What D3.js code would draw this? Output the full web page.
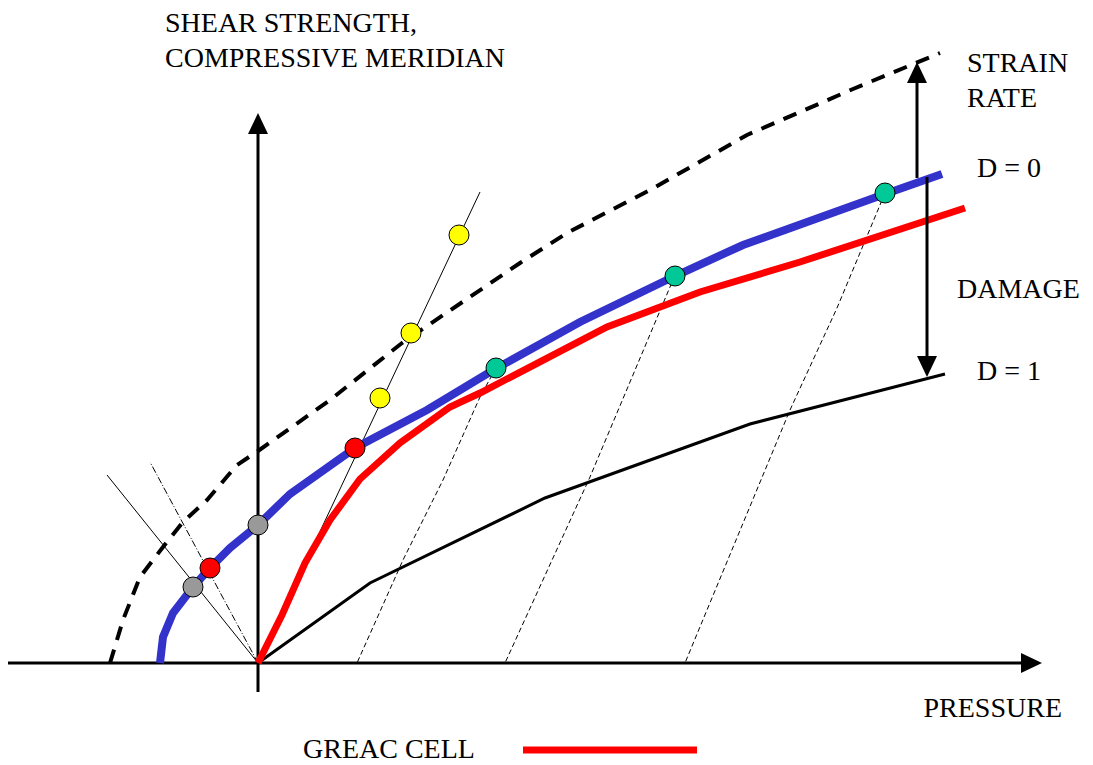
<!DOCTYPE html>
<html>
<head>
<meta charset="utf-8">
<style>
  body { margin: 0; background: #fff; }
  text { font-family: "Liberation Serif", "Times New Roman", serif; font-size: 28px; fill: #000; }
</style>
</head>
<body>
<svg id="chart"></svg>
<script src="https://d3js.org/d3.v7.min.js"></script>
<script>
// data: pressure p, shear q (schematic units)
var d0Curve = [[-9.8,0],[-9.5,2.6],[-8.5,5.0],[-6.5,7.6],[-4.8,9.5],[-2.8,11.5],[0,13.8],[3.2,16.9],[9.7,21.5],[16.9,25.3],[23.7,29.4],[32.2,34.1],[41.7,38.7],[48.5,41.8],[62.7,46.9],[68.4,48.9]]
var greacCurve = [[0,0],[2.4,4.8],[4.7,10.0],[7.2,14.3],[10.2,18.4],[14.2,22.0],[19.2,25.6],[22.2,27.0],[34.9,33.6],[44.2,37.1],[54.2,40.1],[70.7,45.5]]
var d1Curve = [[0,0],[11.2,8.0],[28.7,16.5],[49.2,23.9],[68.7,28.9]]
var strainCurve = [[-14.8,0],[-13.5,4.3],[-11.8,8.6],[-9.5,11.6],[-7.5,14.1],[-5.1,16.3],[-2.1,19.8],[0,21.2],[7.2,26.3],[14.4,32.0],[26.2,40.0],[30.9,43.0],[39.2,47.3],[48.9,52.8],[59.5,57.4],[68.2,61.0]]

var loadPath = [[0,0],[22.2,47.1]]
var tensionPath = [[0,0],[-15.1,18.8]]
var shearPath = [[0,0],[-10.8,20.1]]
var unloadPaths = [
  [[23.8,29.5],[22.2,26.6],[18.5,18.3],[14.5,10.3],[9.9,0]],
  [[41.7,38.7],[41.2,37.6],[33.2,18.6],[24.7,0]],
  [[62.7,47.0],[62.2,45.8],[57.9,35.5],[53.2,25.3],[42.7,0]]
]

var yellowPts = [[12.2,26.5],[15.3,33.0],[20.1,42.8]]
var redPts = [[9.7,21.5],[-4.8,9.5]]
var grayPts = [[-6.5,7.6],[0,13.8]]
var tealPts = [[23.8,29.5],[41.7,38.7],[62.7,47.0]]

var strainArrow = [[65.9,48.5],[65.9,60.1]]
var damageArrow = [[66.9,48.6],[66.9,28.6]]

var yTitle = ["SHEAR STRENGTH,", "COMPRESSIVE MERIDIAN"]
var xTitle = "PRESSURE"
var curveLabels = ["STRAIN", "RATE", "D = 0", "DAMAGE", "D = 1"]
var legendLabel = "GREAC CELL"

var width = 1093, height = 765
var svg = d3.select("#chart").attr("width", width).attr("height", height)

var x = d3.scaleLinear().domain([-25, 78.4]).range([8, 1042])
var y = d3.scaleLinear().domain([0, 55]).range([663, 113])

var line = d3.line().x(function(d){return x(d[0])}).y(function(d){return y(d[1])})

function arrowHead(tip, dir) {
  // dir: unit vector pointing to the tip in pixels
  var len = 21, half = 10
  var bx = tip[0] - dir[0]*len, by = tip[1] - dir[1]*len
  var nx = -dir[1], ny = dir[0]
  return "M" + tip[0] + "," + tip[1] + "L" + (bx + nx*half) + "," + (by + ny*half) + "L" + (bx - nx*half) + "," + (by - ny*half) + "Z"
}

// thin dashed unloading paths
svg.append("g").selectAll("path").data(unloadPaths).enter().append("path")
  .attr("d", line).attr("fill", "none").attr("stroke", "#000")
  .attr("stroke-width", 1).attr("stroke-dasharray", "5,3")

// thin loading lines
svg.append("path").datum(loadPath).attr("d", line)
  .attr("fill", "none").attr("stroke", "#000").attr("stroke-width", 1)
svg.append("path").datum(tensionPath).attr("d", line)
  .attr("fill", "none").attr("stroke", "#000").attr("stroke-width", 1)
svg.append("path").datum(shearPath).attr("d", line)
  .attr("fill", "none").attr("stroke", "#000").attr("stroke-width", 1)
  .attr("stroke-dasharray", "7,2,1,2")

// axes
svg.append("line").attr("x1", x(-25)).attr("x2", x(76.4)).attr("y1", y(0)).attr("y2", y(0))
  .attr("stroke", "#000").attr("stroke-width", 3)
svg.append("path").attr("d", arrowHead([x(78.4), y(0)], [1, 0])).attr("fill", "#000")
svg.append("line").attr("x1", x(0)).attr("x2", x(0)).attr("y1", y(-2.9)).attr("y2", y(53))
  .attr("stroke", "#000").attr("stroke-width", 3)
svg.append("path").attr("d", arrowHead([x(0), y(55)], [0, -1])).attr("fill", "#000")

// strain rate curve
svg.append("path").datum(strainCurve).attr("d", line)
  .attr("fill", "none").attr("stroke", "#000").attr("stroke-width", 4)
  .attr("stroke-dasharray", "14,10")

// D = 1
svg.append("path").datum(d1Curve).attr("d", line)
  .attr("fill", "none").attr("stroke", "#000").attr("stroke-width", 3)

// GREAC cell curve
svg.append("path").datum(greacCurve).attr("d", line)
  .attr("fill", "none").attr("stroke", "#ff0000").attr("stroke-width", 7)

// D = 0
svg.append("path").datum(d0Curve).attr("d", line)
  .attr("fill", "none").attr("stroke", "#3333cc").attr("stroke-width", 8)

// arrows
function vArrow(pts) {
  var x0 = x(pts[0][0]), y0 = y(pts[0][1]), y1 = y(pts[1][1])
  var dir = y1 < y0 ? -1 : 1
  svg.append("line").attr("x1", x0).attr("x2", x0).attr("y1", y0).attr("y2", y1 - dir*18)
    .attr("stroke", "#000").attr("stroke-width", 3)
  svg.append("path").attr("d", arrowHead([x0, y1], [0, dir])).attr("fill", "#000")
}
vArrow(strainArrow)
vArrow(damageArrow)

// dots
function dots(data, color) {
  svg.append("g").selectAll("circle").data(data).enter().append("circle")
    .attr("cx", function(d){return x(d[0])}).attr("cy", function(d){return y(d[1])})
    .attr("r", 10).attr("fill", color).attr("stroke", "#000").attr("stroke-width", 1)
}
dots(yellowPts, "#ffff00")
dots(redPts, "#ff0000")
dots(grayPts, "#999999")
dots(tealPts, "#00c896")

// text
svg.append("text").attr("x", 165).attr("y", 32).text(yTitle[0])
svg.append("text").attr("x", 165).attr("y", 67).text(yTitle[1])
svg.append("text").attr("x", 1062).attr("y", 717).attr("text-anchor", "end").text(xTitle)
var labelPos = [[967,72],[967,107],[977,177],[957,298],[977,380]]
svg.append("g").selectAll("text").data(curveLabels).enter().append("text")
  .attr("x", function(d, i){return labelPos[i][0]}).attr("y", function(d, i){return labelPos[i][1]})
  .text(function(d){return d})

// legend
svg.append("text").attr("x", 303).attr("y", 758).text(legendLabel)
svg.append("line").attr("x1", 523).attr("x2", 697).attr("y1", 750).attr("y2", 750)
  .attr("stroke", "#ff0000").attr("stroke-width", 7)
</script>
</body>
</html>
